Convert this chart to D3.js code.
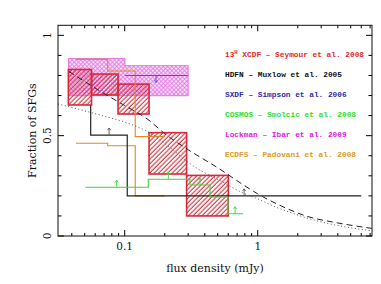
<!DOCTYPE html>
<html><head><meta charset="utf-8">
<script src="https://cdn.jsdelivr.net/npm/d3@7"></script>
<style>html,body{margin:0;padding:0;background:#fff;}svg{display:block;}</style>
</head><body>
<svg id="c" width="381" height="284"></svg>
<script>
// ---- data ----
const xMajorTicks = [0.1, 1];
const xMinorTicks = [0.04,0.05,0.06,0.07,0.08,0.09,0.2,0.3,0.4,0.5,0.6,0.7,0.8,0.9,2,3,4,5,6,7];
const xTickLabels = ["0.1", "1"];
const yMajorTicks = [0, 0.5, 1];
const yMinorTicks = [0.1,0.2,0.3,0.4,0.6,0.7,0.8,0.9];
const yTickLabels = ["0", "0.5", "1"];

// 13H XCDF (Seymour et al. 2008) error boxes
const xcdfEdges = [0.0377, 0.0563, 0.0891, 0.1524, 0.292, 0.601];
const xcdfLow   = [0.653, 0.703, 0.608, 0.309, 0.100];
const xcdfHigh  = [0.830, 0.807, 0.757, 0.515, 0.302];

// Lockman (Ibar et al. 2009) band
const lockEdges = [0.0378, 0.1005, 0.30];
const lockLow   = [0.699, 0.699];
const lockHigh  = [0.885, 0.849];

// SXDF (Simpson et al. 2006)
const sxdfEdges = [0.1005, 0.30];
const sxdfValues = [0.80];
const sxdfArrows = [0.172];

// ECDFS (Padovani et al. 2008)
const ecdfsEdges = [0.043, 0.0745, 0.12, 0.2];
const ecdfsHigh  = [0.88, 0.822, 0.495];
const ecdfsLow   = [0.462, 0.450, 0.2];

// HDFN (Muxlow et al. 2005)
const hdfnStart  = 0.65;
const hdfnEdges  = [0.0555, 0.1045, 6.0];
const hdfnValues = [0.503, 0.2];
const hdfnArrows = [0.0763, 0.79];

// COSMOS (Smolcic et al. 2008)
const cosmosEdges  = [0.0506, 0.1504, 0.31, 0.438, 0.598, 0.776];
const cosmosValues = [0.243, 0.283, 0.254, 0.194, 0.111];
const cosmosArrows = [0.087, 0.213, 0.368, 0.676];

// model curves
const dashedX = [0.038, 0.05, 0.07, 0.1, 0.15, 0.2, 0.3, 0.5, 0.8, 1.0, 1.5, 2.3, 4, 7.2];
const dashedY = [0.82, 0.77, 0.71, 0.65, 0.58, 0.51, 0.43, 0.34, 0.25, 0.21, 0.15, 0.10, 0.065, 0.038];
const dottedX = [0.0315, 0.065, 0.115, 0.155, 0.22, 0.31, 0.545, 0.775, 1.0, 1.3, 1.75, 2.34, 3.1, 4.16, 7.2];
const dottedY = [0.658, 0.603, 0.553, 0.513, 0.44, 0.36, 0.269, 0.214, 0.185, 0.15, 0.118, 0.09, 0.068, 0.05, 0.026];

const legendNames = ["XCDF \u2013 Seymour et al. 2008", "HDFN \u2013 Muxlow et al. 2005", "SXDF \u2013 Simpson et al. 2006",
  "COSMOS \u2013 Smolcic et al. 2008", "Lockman \u2013 Ibar et al. 2009", "ECDFS \u2013 Padovani et al. 2008"];
const legendColors = ["#e02828", "#111111", "#2a2ab0", "#30dd30", "#e020e0", "#e09a20"];

// ---- layout ----
const L = 58, R = 372, T = 25.3, B = 236;
const svg = d3.select("#c");
const x = d3.scaleLog().domain([Math.pow(10,-1.5015), Math.pow(10,0.859)]).range([L, R]);
const y = d3.scaleLinear().domain([0, 1.05]).range([B, T]);

const defs = svg.append("defs");
const hatch = defs.append("pattern").attr("id","hatch").attr("patternUnits","userSpaceOnUse")
  .attr("width",3.2).attr("height",3.2).attr("patternTransform","rotate(45)");
hatch.append("line").attr("x1",1).attr("y1",0).attr("x2",1).attr("y2",3.2)
  .attr("stroke","#d42c38").attr("stroke-width",1.05);
const xh = defs.append("pattern").attr("id","xhatch").attr("patternUnits","userSpaceOnUse")
  .attr("width",3).attr("height",3).attr("patternTransform","rotate(45)");
xh.append("rect").attr("width",3).attr("height",3).attr("fill","#f9dcf9");
xh.append("line").attr("x1",0.5).attr("y1",0).attr("x2",0.5).attr("y2",3).attr("stroke","#e070e0").attr("stroke-width",0.7);
xh.append("line").attr("x1",0).attr("y1",0.5).attr("x2",3).attr("y2",0.5).attr("stroke","#e070e0").attr("stroke-width",0.7);

const plot = svg.append("g");

// Lockman band
lockLow.forEach((lo,i)=>{
  plot.append("rect").attr("x",x(lockEdges[i])).attr("width",x(lockEdges[i+1])-x(lockEdges[i]))
    .attr("y",y(lockHigh[i])).attr("height",y(lo)-y(lockHigh[i]))
    .attr("fill","url(#xhatch)").attr("stroke","none");
});
const bandPath = d3.path();
bandPath.moveTo(x(lockEdges[0]), y(lockHigh[0]));
for (let i=0;i<lockHigh.length;i++){ bandPath.lineTo(x(lockEdges[i]), y(lockHigh[i])); bandPath.lineTo(x(lockEdges[i+1]), y(lockHigh[i])); }
for (let i=lockLow.length-1;i>=0;i--){ bandPath.lineTo(x(lockEdges[i+1]), y(lockLow[i])); bandPath.lineTo(x(lockEdges[i]), y(lockLow[i])); }
bandPath.closePath();
plot.append("path").attr("d",bandPath.toString()).attr("fill","none").attr("stroke","#e060e0").attr("stroke-width",0.8);

// XCDF boxes
xcdfLow.forEach((lo,i)=>{
  plot.append("rect").attr("x",x(xcdfEdges[i])).attr("width",x(xcdfEdges[i+1])-x(xcdfEdges[i]))
    .attr("y",y(xcdfHigh[i])).attr("height",y(lo)-y(xcdfHigh[i]))
    .attr("fill","url(#hatch)").attr("stroke","#d8283a").attr("stroke-width",1.6);
});

function stepPath(edges, vals){
  const p = d3.path();
  p.moveTo(x(edges[0]), y(vals[0]));
  for (let i=0;i<vals.length;i++){
    if (i>0) p.lineTo(x(edges[i]), y(vals[i]));
    p.lineTo(x(edges[i+1]), y(vals[i]));
  }
  return p.toString();
}
function valueAt(edges, vals, xv){
  for (let i=0;i<vals.length;i++) if (xv>=edges[i] && xv<=edges[i+1]) return vals[i];
  return vals[vals.length-1];
}
function arrow(g, xv, yv, dir, color){
  const px = x(xv), py = y(yv), len = 7*dir;
  g.append("line").attr("x1",px).attr("y1",py).attr("x2",px).attr("y2",py-len)
    .attr("stroke",color).attr("stroke-width",0.9);
  g.append("path").attr("d",`M${px-1.6},${py-len+2.2*dir}L${px},${py-len}L${px+1.6},${py-len+2.2*dir}`)
    .attr("fill","none").attr("stroke",color).attr("stroke-width",0.9);
}

// ECDFS
plot.append("path").attr("d",stepPath(ecdfsEdges, ecdfsHigh)).attr("fill","none").attr("stroke","#e08a20").attr("stroke-width",1.1);
plot.append("path").attr("d",stepPath(ecdfsEdges, ecdfsLow)).attr("fill","none").attr("stroke","#e08a20").attr("stroke-width",1.1);

// HDFN
const hp = d3.path();
hp.moveTo(x(hdfnEdges[0]), y(hdfnStart));
for (let i=0;i<hdfnValues.length;i++){ hp.lineTo(x(hdfnEdges[i]), y(hdfnValues[i])); hp.lineTo(x(hdfnEdges[i+1]), y(hdfnValues[i])); }
plot.append("path").attr("d",hp.toString()).attr("fill","none").attr("stroke","#222").attr("stroke-width",1.2);
hdfnArrows.forEach(a=>arrow(plot, a, valueAt(hdfnEdges,hdfnValues,a), 1, "#555"));

// COSMOS
plot.append("path").attr("d",stepPath(cosmosEdges, cosmosValues)).attr("fill","none").attr("stroke","#44d044").attr("stroke-width",1.1);
cosmosArrows.forEach(a=>arrow(plot, a, valueAt(cosmosEdges,cosmosValues,a), 1, "#44d044"));

// SXDF
plot.append("path").attr("d",stepPath(sxdfEdges, sxdfValues)).attr("fill","none").attr("stroke","#5a50d0").attr("stroke-width",1.1);
sxdfArrows.forEach(a=>arrow(plot, a, sxdfValues[0], -1, "#5a50d0"));

// model curves
const line = d3.line().x(d=>x(d[0])).y(d=>y(d[1])).curve(d3.curveMonotoneX);
plot.append("path").attr("d",line(dashedX.map((v,i)=>[v,dashedY[i]]))).attr("fill","none")
  .attr("stroke","#222").attr("stroke-width",1).attr("stroke-dasharray","6,4");
plot.append("path").attr("d",line(dottedX.map((v,i)=>[v,dottedY[i]]))).attr("fill","none")
  .attr("stroke","#555").attr("stroke-width",1).attr("stroke-dasharray","1,2.5");

// ---- frame & ticks ----
const axG = svg.append("g").attr("stroke","#000").attr("stroke-width",1);
svg.append("rect").attr("x",L).attr("y",T).attr("width",R-L).attr("height",B-T)
  .attr("fill","none").attr("stroke","#111").attr("stroke-width",1);
function xt(vals, len){
  vals.forEach(v=>{
    axG.append("line").attr("x1",x(v)).attr("x2",x(v)).attr("y1",B).attr("y2",B-len);
    axG.append("line").attr("x1",x(v)).attr("x2",x(v)).attr("y1",T).attr("y2",T+len);
  });
}
function yt(vals, len){
  vals.forEach(v=>{
    axG.append("line").attr("y1",y(v)).attr("y2",y(v)).attr("x1",L).attr("x2",L+len);
    axG.append("line").attr("y1",y(v)).attr("y2",y(v)).attr("x1",R).attr("x2",R-len);
  });
}
xt(xMajorTicks, 6); xt(xMinorTicks, 3);
yt(yMajorTicks, 6); yt(yMinorTicks, 3.5);

const serif = "'DejaVu Serif', 'Liberation Serif', serif";
xMajorTicks.forEach((v,i)=>{
  svg.append("text").attr("x",x(v)).attr("y",250).attr("text-anchor","middle")
    .attr("font-family",serif).attr("font-size",10.5).attr("fill","#111").text(xTickLabels[i]);
});
yMajorTicks.forEach((v,i)=>{
  svg.append("text").attr("transform",`translate(50.5,${y(v)}) rotate(-90)`).attr("text-anchor","middle")
    .attr("font-family",serif).attr("font-size",10.5).attr("fill","#111").text(yTickLabels[i]);
});
svg.append("text").attr("x",(L+R)/2).attr("y",272).attr("text-anchor","middle")
  .attr("font-family",serif).attr("font-size",11).attr("fill","#111").text("flux density (mJy)");
svg.append("text").attr("transform",`translate(35.5,${(T+B)/2}) rotate(-90)`).attr("text-anchor","middle")
  .attr("font-family",serif).attr("font-size",11).attr("fill","#111").text("Fraction of SFGs");

// ---- legend ----
const mono = "'Liberation Mono', 'DejaVu Sans Mono', monospace";
legendNames.forEach((name,i)=>{
  const t = svg.append("text").attr("x",225).attr("y",57+i*20)
    .attr("font-family",mono).attr("font-size",7.8).attr("font-weight","bold").attr("fill",legendColors[i]);
  if (i===0){
    t.append("tspan").text("13");
    t.append("tspan").attr("dy",-3).attr("font-size",5.5).text("H");
    t.append("tspan").attr("dy",3).text(" " + name);
  } else t.text(name);
});
</script>
</body></html>
